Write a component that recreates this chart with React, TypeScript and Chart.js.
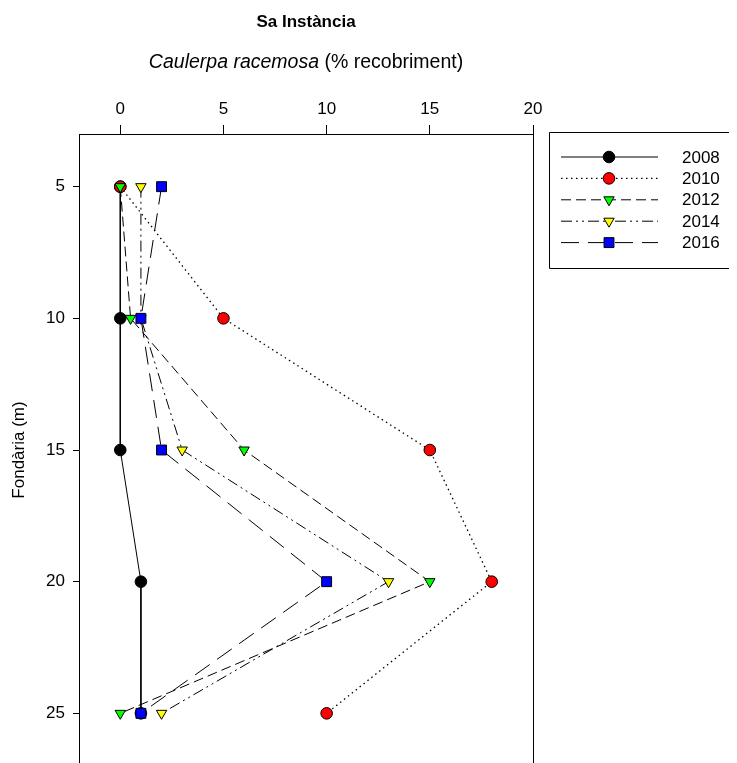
import React, { useEffect, useRef } from 'react';
import { Chart, registerables } from 'chart.js';
import { drawPoint } from 'chart.js/helpers';

Chart.register(...registerables);

const depths = [5, 10, 15, 20, 25];
const years = ['2008', '2010', '2012', '2014', '2016'];
const cover2008 = [0, 0, 0, 1, 1];
const cover2010 = [0, 5, 15, 18, 10];
const cover2012 = [0, 0.5, 6, 15, 0];
const cover2014 = [1, 1, 3, 13, 2];
const cover2016 = [2, 1, 2, 10, 1];
const xTicks = [0, 5, 10, 15, 20];
const yTicks = [5, 10, 15, 20, 25];

const titleText = 'Sa Instància';
const subtitleItalic = 'Caulerpa racemosa';
const subtitleNormal = ' (% recobriment)';
const yTitle = 'Fondària (m)';

const FONT = '"Liberation Sans", Arial, Helvetica, sans-serif';

const seriesValues = [cover2008, cover2010, cover2012, cover2014, cover2016];
const colors = ['#000000', '#FF0000', '#00FF00', '#FFFF00', '#0000FF'];
const styles = ['circle', 'circle', 'triangle', 'triangle', 'rect'];
const rotations = [0, 0, 180, 180, 0];
const radii = [5.8, 5.8, 6, 6, 7];
const dashes: number[][] = [[], [1.5, 3.5], [10, 5], [11, 4, 2, 4, 2, 4], [18, 9]];

const titlesPlugin = {
  id: 'titles',
  afterDraw(chart: any) {
    const { ctx, chartArea } = chart;
    const cx = (chartArea.left + chartArea.right) / 2;
    ctx.save();
    ctx.fillStyle = '#000';
    ctx.textBaseline = 'middle';
    ctx.textAlign = 'center';
    ctx.font = `bold 17px ${FONT}`;
    ctx.fillText(titleText, cx, 14);
    const subSize = 19.5;
    ctx.font = `italic ${subSize}px ${FONT}`;
    const w1 = ctx.measureText(subtitleItalic).width;
    ctx.font = `${subSize}px ${FONT}`;
    const w2 = ctx.measureText(subtitleNormal).width;
    const sx = cx - (w1 + w2) / 2;
    ctx.textAlign = 'left';
    ctx.font = `italic ${subSize}px ${FONT}`;
    ctx.fillText(subtitleItalic, sx, 55);
    ctx.font = `${subSize}px ${FONT}`;
    ctx.fillText(subtitleNormal, sx + w1, 55);
    // y title
    ctx.translate(11, (chartArea.top + chartArea.bottom) / 2);
    ctx.rotate(-Math.PI / 2);
    ctx.textAlign = 'center';
    ctx.font = `17px ${FONT}`;
    ctx.fillText(yTitle, 0, 0);
    ctx.restore();

    // right and bottom frame border
    ctx.save();
    ctx.strokeStyle = '#000';
    ctx.lineWidth = 1;
    ctx.beginPath();
    const rx = Math.round(chartArea.right) + 0.5;
    ctx.moveTo(rx, chartArea.top);
    ctx.lineTo(rx, chartArea.bottom);
    ctx.moveTo(chartArea.left, Math.round(chartArea.bottom) + 0.5);
    ctx.lineTo(chartArea.right, Math.round(chartArea.bottom) + 0.5);
    ctx.stroke();
    ctx.restore();

    // legend
    ctx.save();
    ctx.strokeStyle = '#000';
    ctx.lineWidth = 1;
    ctx.beginPath();
    ctx.moveTo(760, 124.5);
    ctx.lineTo(541.5, 124.5);
    ctx.lineTo(541.5, 260.5);
    ctx.lineTo(760, 260.5);
    ctx.stroke();
    years.forEach((yr, i) => {
      const y = 149 + i * 21.4;
      ctx.save();
      ctx.strokeStyle = '#000';
      ctx.lineWidth = i === 1 ? 1.3 : 1;
      ctx.setLineDash(dashes[i]);
      ctx.beginPath();
      ctx.moveTo(553, y);
      ctx.lineTo(650, y);
      ctx.stroke();
      ctx.restore();
      ctx.save();
      ctx.fillStyle = colors[i];
      ctx.strokeStyle = '#000';
      ctx.lineWidth = 1;
      drawPoint(ctx, { pointStyle: styles[i], rotation: rotations[i], radius: radii[i], borderWidth: 1 }, 601, y);
      ctx.restore();
      ctx.fillStyle = '#000';
      ctx.font = `17px ${FONT}`;
      ctx.textAlign = 'left';
      ctx.textBaseline = 'middle';
      ctx.fillText(yr, 674, y + 1);
    });
    ctx.restore();
  },
};

export default function App() {
  const ref = useRef<HTMLCanvasElement | null>(null);
  useEffect(() => {
    if (!ref.current) return;
    const datasets = years.map((yr, i) => ({
      label: yr,
      data: depths.map((d, j) => ({ x: seriesValues[i][j], y: d })),
      showLine: true,
      borderColor: '#000',
      borderWidth: i === 1 ? 1.3 : 1,
      borderDash: dashes[i],
      backgroundColor: colors[i],
      pointBackgroundColor: colors[i],
      pointBorderColor: '#000',
      pointBorderWidth: 1,
      pointStyle: styles[i],
      pointRotation: rotations[i],
      pointRadius: radii[i],
      pointHoverRadius: radii[i],
      order: years.length - 1 - i,
      clip: false as any,
    }));
    const chart = new Chart(ref.current, {
      type: 'scatter',
      data: { datasets },
      options: {
        animation: false,
        responsive: false,
        devicePixelRatio: 1,
        layout: { padding: { top: 0, left: 0, right: 204, bottom: 42 } },
        plugins: { legend: { display: false }, tooltip: { enabled: false }, title: { display: false } },
        scales: {
          x: {
            type: 'linear',
            position: 'top',
            min: -2,
            max: 20,
            afterBuildTicks: (s: any) => { s.ticks = xTicks.map((v) => ({ value: v })); },
            afterFit: (s: any) => { s.height = 126; },
            grid: { drawOnChartArea: false, drawTicks: true, tickLength: 9, color: '#000', tickColor: '#000' },
            border: { display: true, color: '#000', width: 1 },
            ticks: { color: '#000', font: { family: FONT, size: 17 }, padding: 5, maxRotation: 0 },
          },
          y: {
            type: 'linear',
            position: 'left',
            reverse: true,
            min: 3,
            max: 27,
            afterBuildTicks: (s: any) => { s.ticks = yTicks.map((v) => ({ value: v })); },
            afterFit: (s: any) => { s.width = 71; },
            grid: { drawOnChartArea: false, drawTicks: true, tickLength: 6, color: '#000', tickColor: '#000' },
            border: { display: true, color: '#000', width: 1 },
            ticks: { color: '#000', font: { family: FONT, size: 17 }, padding: 8 },
          },
        },
      },
      plugins: [titlesPlugin],
    });
    return () => chart.destroy();
  }, []);
  return (
    <div style={{ width: 729, height: 800 }}>
      <canvas ref={ref} width={729} height={800} style={{ display: 'block', width: 729, height: 800 }} />
    </div>
  );
}
